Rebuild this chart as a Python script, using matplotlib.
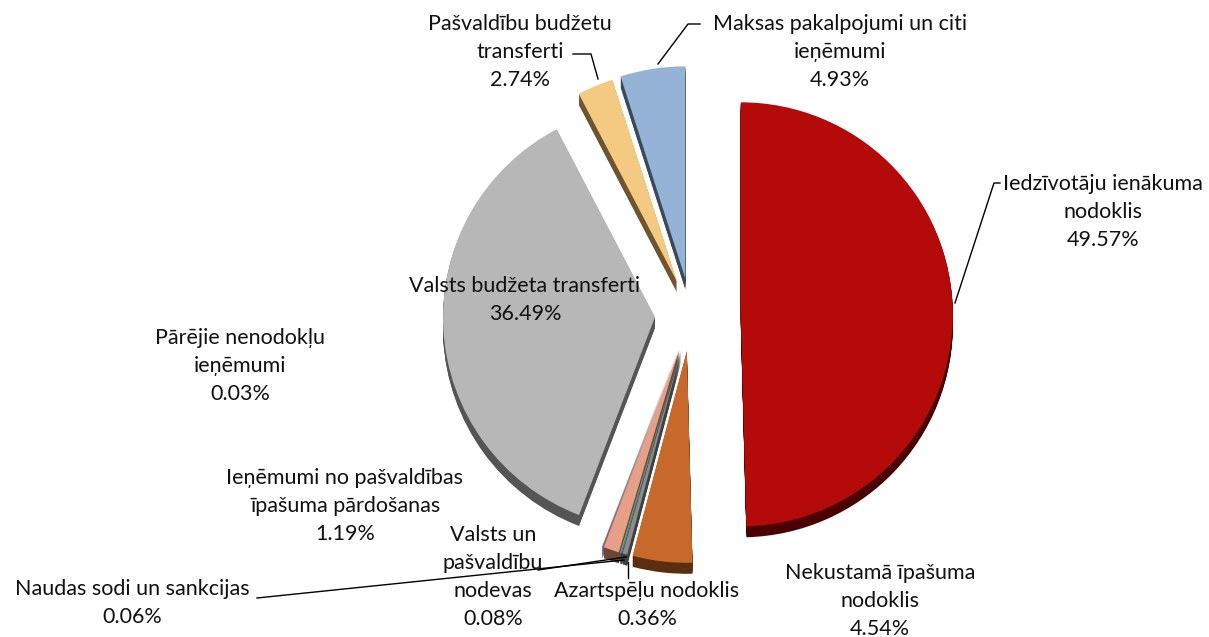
import numpy as np
import matplotlib
matplotlib.use('Agg')
import matplotlib.pyplot as plt

# dati (procenti)
categories = ['Iedzīvotāju ienākuma nodoklis', 'Nekustamā īpašuma nodoklis',
              'Azartspēļu nodoklis', 'Valsts un pašvaldību nodevas',
              'Naudas sodi un sankcijas', 'Ieņēmumi no pašvaldības īpašuma pārdošanas',
              'Pārējie nenodokļu ieņēmumi', 'Valsts budžeta transferti',
              'Pašvaldību budžetu transferti', 'Maksas pakalpojumi un citi ieņēmumi']
values = [49.57, 4.54, 0.36, 0.08, 0.06, 1.19, 0.03, 36.49, 2.74, 4.93]
label_texts = ['Iedzīvotāju ienākuma\nnodoklis', 'Nekustamā īpašuma\nnodoklis',
               'Azartspēļu nodoklis', 'Valsts un\npašvaldību\nnodevas',
               'Naudas sodi un sankcijas', 'Ieņēmumi no pašvaldības\nīpašuma pārdošanas',
               'Pārējie nenodokļu\nieņēmumi', 'Valsts budžeta transferti',
               'Pašvaldību budžetu\ntransferti', 'Maksas pakalpojumi un citi\nieņēmumi']

# krāsas
colors = ['#B50A0A', '#C8692C', '#8C8C8C', '#4F81BD', '#9BBB59',
          '#E6A088', '#8064A2', '#B7B7B7', '#F4C982', '#94B3D7']
dark = ['#4A0000', '#5A2E10', '#404040', '#24405F', '#4A5A28',
        '#6A4538', '#3A2D4C', '#555555', '#6E5530', '#3A4A5C']
explode = [0.235, 0.17, 0.17, 0.17, 0.17, 0.17, 0.17, 0.17, 0.17, 0.175]

W, H = 1209, 637
fig = plt.figure(figsize=(W / 100, H / 100), dpi=100)
ax = fig.add_axes([0, 0, 1, 1])

cx, cy, R = 691, H - 315, 212
depth = 11
expl_px = [e * R for e in explode]

# "3D" biezums - vairākas nobīdītas kopijas
for d in range(depth, 0, -1):
    ax.pie(values, explode=expl_px, colors=dark, startangle=90, counterclock=False,
           center=(cx, cy - d), radius=R, wedgeprops=dict(linewidth=0))
ax.pie(values, explode=expl_px, colors=colors, startangle=90, counterclock=False,
       center=(cx, cy), radius=R, wedgeprops=dict(linewidth=0))

ax.set_xlim(0, W)
ax.set_ylim(0, H)
ax.set_aspect('auto')
ax.axis('off')

# etiķešu pozīcijas (pikseļos no augšas)
label_pos = [(1103, 212), (880, 601), (647, 605), (493, 577), (132, 603),
             (345, 506), (240, 366), (525, 300), (520, 52), (840, 52)]

plt.rcParams['font.family'] = ['Lato', 'DejaVu Sans']
for txt, v, (x, y) in zip(label_texts, values, label_pos):
    ax.text(x, H - y, '%s\n%.2f%%' % (txt, v), ha='center', va='center',
            fontsize=15.5, linespacing=1.5, color='#111111')

# vadlīnijas
leaders = [
    [(955, 303), (994, 183), (1000, 183)],
    [(628, 562), (628, 578)],
    [(538, 570), (626, 557)],
    [(257, 598), (624, 560)],
    [(573, 54), (591, 54), (598, 79)],
    [(700, 24), (688, 24), (658, 64)],
]
for pts in leaders:
    xs = [p[0] for p in pts]
    ys = [H - p[1] for p in pts]
    ax.plot(xs, ys, color='black', lw=1)

fig.savefig('out.png', dpi=100)
